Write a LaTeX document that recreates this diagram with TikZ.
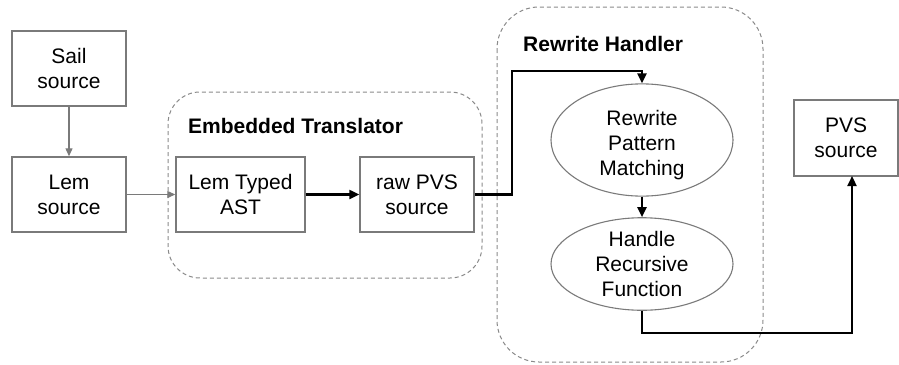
\documentclass[tikz,border=0pt]{standalone}
\usepackage{fontspec}
\setmainfont{Liberation Sans}
\usetikzlibrary{arrows.meta,shapes.geometric}
\definecolor{boxgray}{HTML}{7A7A7A}
\definecolor{dashgray}{HTML}{8A8A8A}
\begin{document}
\begin{tikzpicture}[x=1pt,y=-1pt,
  txt/.style={font=\fontsize{21}{25}\selectfont, align=center, text=black},
  rbox/.style={txt, draw=boxgray, line width=1.4pt, rectangle, inner sep=0pt, minimum width=#1, minimum height=75pt},
  ell/.style={txt, draw=boxgray, line width=1.1pt, ellipse, inner sep=0pt, minimum width=182pt, minimum height=#1},
  group/.style={draw=dashgray, line width=1pt, dash pattern=on 4pt off 3pt},
  title/.style={font=\fontsize{21}{25}\selectfont\bfseries, anchor=west, inner sep=0pt},
  garrow/.style={draw=boxgray, line width=1.2pt, -{Triangle[length=8pt,width=7pt]}},
  barrow/.style={draw=black, line width=2.2pt, -{Triangle[length=10pt,width=9pt]}}
]
\useasboundingbox (0,0) rectangle (899,364);
% groups
\draw[group, rounded corners=32pt] (168,92) rectangle (482,278);
\node[title] (t1) at (188,126) {Embedded Translator};
\draw[group, rounded corners=42pt] (497,7) rectangle (763,362);
\node[title] (t2) at (523,44) {Rewrite Handler};
% boxes
\node[rbox=114pt] (sail) at (69,68.5) {Sail\\source};
\node[rbox=114pt] (lem) at (69,194.5) {Lem\\source};
\node[rbox=129pt] (ast) at (240.5,194.5) {Lem Typed\\AST};
\node[rbox=114pt] (raw) at (417,194.5) {raw PVS\\source};
\node[rbox=104pt, minimum height=76pt] (pvs) at (846,138) {PVS\\source};
\node[ell=80pt] (rpm) at (642,140) {\rule{0pt}{25pt}Rewrite\\Pattern\\Matching};
\node[ell=82pt] (hrf) at (642,264) {Handle\\Recursive\\Function};
% connectors
\draw[garrow] (sail) -- (lem);
\draw[garrow] (lem) -- (ast);
\draw[barrow] (ast) -- (raw);
\draw[barrow] (raw.east) -- (512,194.5) -- (512,71) -- (642,71) -- (rpm.north);
\draw[barrow] (rpm) -- (hrf);
\coordinate (pin) at (852,176);
\draw[barrow] (hrf.south) -- (642,333) -- (852,333) -- (pin);
\end{tikzpicture}
\end{document}
